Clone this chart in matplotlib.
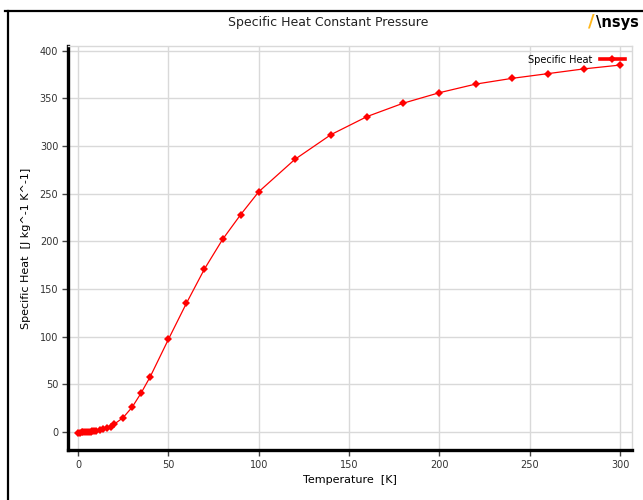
import matplotlib
matplotlib.use("Agg")
import matplotlib.pyplot as plt
from matplotlib.lines import Line2D

# Specific heat of the material vs temperature
temperature_K = [0, 1, 2, 3, 4, 5, 6, 7, 8, 9, 10, 12, 14, 16, 18, 20,
                 25, 30, 35, 40, 50, 60, 70, 80, 90, 100, 120, 140, 160,
                 180, 200, 220, 240, 260, 280, 300]
specific_heat = [-1.0, -0.8, -0.6, -0.4, -0.2, 0.0, 0.2, 0.4, 0.6, 0.9, 1.3,
                 2.0, 3.0, 4.2, 5.5, 8.0,
                 15.0, 26.0, 41.0, 58.0, 97.0, 135.0, 171.0, 202.0, 228.0,
                 252.0, 286.0, 312.0, 331.0, 345.0, 356.0, 365.0, 371.0,
                 376.0, 381.0, 385.0]

x_ticks = [0, 50, 100, 150, 200, 250, 300]
y_ticks = [0, 50, 100, 150, 200, 250, 300, 350, 400]

red = "#ff0000"
grid_col = "#d9d9d9"
txt_col = "#333333"

fig = plt.figure(figsize=(6.43, 5.0), dpi=100)
ax = fig.add_axes([0.1058, 0.10, 0.877, 0.808])

ax.plot(temperature_K, specific_heat, color=red, lw=0.9, marker="D",
        markersize=3.6, markeredgewidth=0)

ax.set_xlim(-5.5, 306.5)
ax.set_ylim(-19, 405)
ax.set_xticks(x_ticks)
ax.set_yticks(y_ticks)
ax.grid(True, color=grid_col, lw=1.0)
ax.set_axisbelow(True)

for side in ("top", "right"):
    ax.spines[side].set_color(grid_col)
    ax.spines[side].set_linewidth(1.0)
for side in ("left", "bottom"):
    ax.spines[side].set_color("black")
    ax.spines[side].set_linewidth(2.4)

ax.tick_params(direction="out", length=4, width=1, color="#444444",
               labelsize=7, labelcolor=txt_col, pad=3)

ax.set_xlabel("Temperature  [K]", fontsize=8, color="black", labelpad=4)
ax.set_ylabel("Specific Heat  [J kg^-1 K^-1]", fontsize=8, color="black",
              labelpad=6)

# legend with a heavier sample line
handle = Line2D([], [], color=red, lw=2.6, marker="D", markersize=3.6,
                markeredgewidth=0)
ax.legend([handle], ["Specific Heat"], loc="upper right", frameon=False,
          markerfirst=False, fontsize=7, handlelength=2.6,
          borderaxespad=0.3, bbox_to_anchor=(1.0, 0.995))

fig.text(0.51, 0.955, "Specific Heat Constant Pressure", ha="center",
         va="center", fontsize=9, color="#222222")

# logo in the top right corner
fig.text(0.914, 0.956, "/", ha="left", va="center", fontsize=13,
         fontweight="heavy", color="#ffb71b")
fig.text(0.927, 0.955, "\\nsys", ha="left", va="center", fontsize=10.5,
         fontweight="bold", color="black")

# outer frame (left and top edges visible)
fig.add_artist(Line2D([0.0078, 1.0], [0.978, 0.978], color="black", lw=1.6,
                      transform=fig.transFigure))
fig.add_artist(Line2D([0.0125, 0.0125], [0.0, 0.978], color="black", lw=1.6,
                      transform=fig.transFigure))

fig.savefig("out.png", dpi=100)
